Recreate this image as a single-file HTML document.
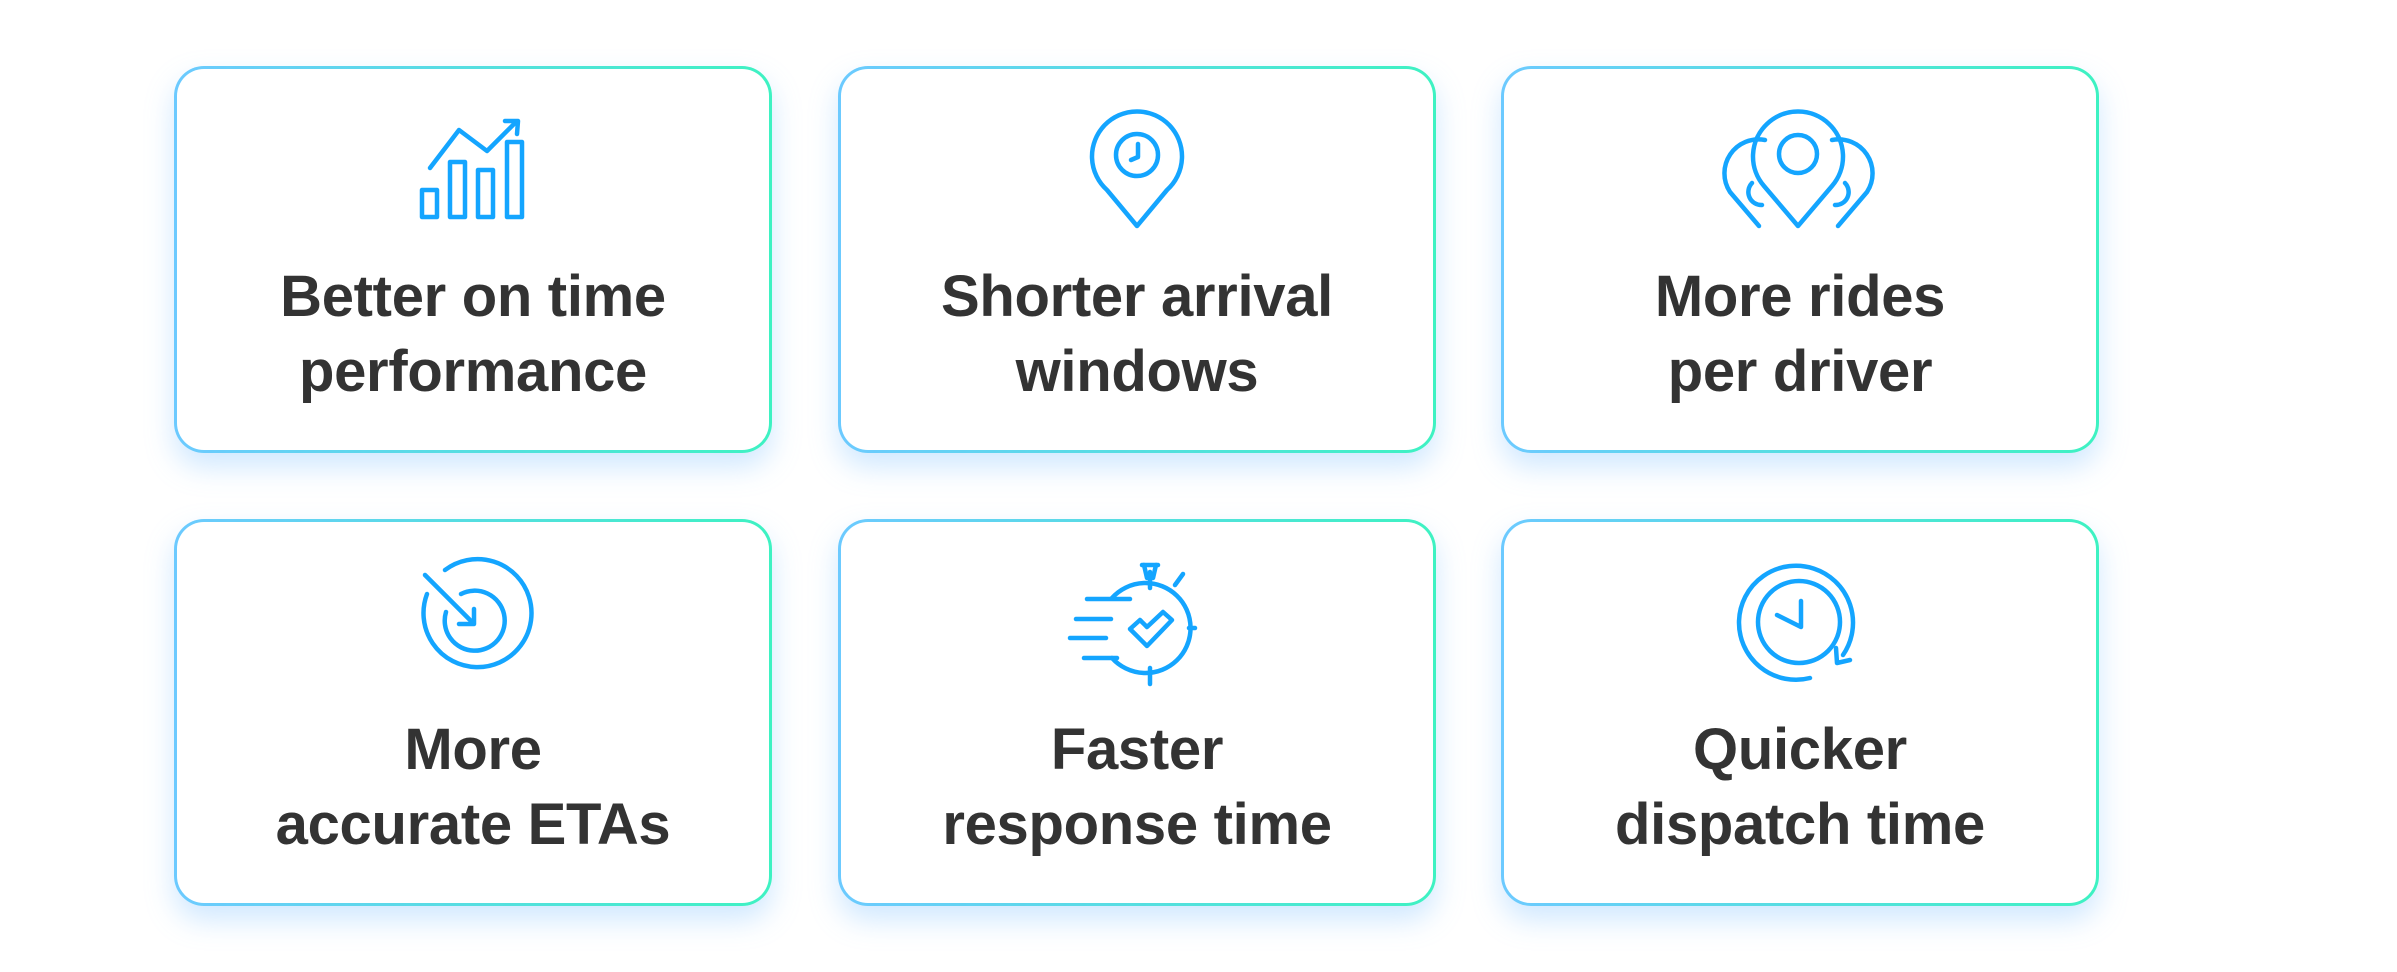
<!DOCTYPE html>
<html><head><meta charset="utf-8"><style>
html,body{margin:0;padding:0;background:#fff;}
body{width:2397px;height:972px;position:relative;overflow:hidden;font-family:"Liberation Sans",sans-serif;}
.card{position:absolute;width:598px;height:387px;box-sizing:border-box;border-radius:30px;padding:3px;background:linear-gradient(90deg,#6ccaff,#3ef2c2);box-shadow:0 14px 28px rgba(120,190,255,0.35);}
.in{width:100%;height:100%;background:#fff;border-radius:27px;}
.t{position:absolute;width:598px;text-align:center;font-weight:bold;font-size:58px;color:#333;line-height:75px;letter-spacing:-0.3px;}
svg{position:absolute;left:0;top:0;}
</style></head><body>
<div class="card" style="left:174px;top:66px"><div class="in"></div></div>
<div class="card" style="left:838px;top:66px"><div class="in"></div></div>
<div class="card" style="left:1501px;top:66px"><div class="in"></div></div>
<div class="card" style="left:174px;top:519px"><div class="in"></div></div>
<div class="card" style="left:838px;top:519px"><div class="in"></div></div>
<div class="card" style="left:1501px;top:519px"><div class="in"></div></div>

<div class="t" style="left:174px;top:259px">Better on time<br>performance</div>
<div class="t" style="left:838px;top:259px">Shorter arrival<br>windows</div>
<div class="t" style="left:1501px;top:259px">More rides<br>per driver</div>
<div class="t" style="left:174px;top:712px">More<br>accurate ETAs</div>
<div class="t" style="left:838px;top:712px">Faster<br>response time</div>
<div class="t" style="left:1501px;top:712px">Quicker<br>dispatch time</div>

<svg width="2397" height="972" fill="none" stroke="#14a5ff" stroke-width="4.5" stroke-linecap="round" stroke-linejoin="round">
<!-- chart -->
<rect x="422" y="190" width="15" height="27"/>
<rect x="450" y="162" width="15" height="55"/>
<rect x="478" y="170" width="15" height="47"/>
<rect x="507" y="142" width="15" height="75"/>
<polyline points="430,168 459,130 487,151 516,122"/>
<polyline points="505,121 518,121 517,134"/>
<!-- pin clock -->
<path d="M1137,226 L1107,190 A45,45 0 1 1 1167,190 Z"/>
<circle cx="1137" cy="155" r="21"/>
<polyline points="1138,144 1138,157 1131,160"/>
<!-- three pins -->
<path d="M1759,226 L1730,192 A34,34 0 0 1 1765,140"/>
<path d="M1838,226 L1867,192 A34,34 0 0 0 1832,140"/>
<path d="M1752,183 A13,13 0 0 0 1762,205"/>
<path d="M1845,183 A13,13 0 0 1 1835,205"/>
<path d="M1798,226 L1764,186 A45,45 0 1 1 1832,186 Z"/>
<circle cx="1798" cy="154" r="19"/>
<!-- target -->
<path d="M445,570 A54,54 0 1 1 427,594"/>
<path d="M461,594 A30,30 0 1 1 446,612"/>
<line x1="425" y1="575" x2="472" y2="622"/>
<polyline points="459,624 474,624 474,609"/>
<!-- stopwatch -->
<path d="M1112,598 A45,45 0 1 1 1112,658"/>
<line x1="1150" y1="572" x2="1150" y2="588"/><line x1="1150" y1="668" x2="1150" y2="684"/>
<line x1="1189" y1="628" x2="1195" y2="628"/>
<line x1="1144" y1="565" x2="1147" y2="578"/><line x1="1156" y1="565" x2="1153" y2="578"/>
<line x1="1142" y1="565" x2="1158" y2="565"/>
<line x1="1175" y1="585" x2="1183" y2="574"/>
<line x1="1087" y1="599" x2="1130" y2="599"/>
<line x1="1076" y1="619" x2="1111" y2="619"/>
<line x1="1070" y1="638" x2="1106" y2="638"/>
<line x1="1084" y1="658" x2="1117" y2="658"/>
<path d="M1130,629 L1140,620 L1147,627 L1163,612 L1172,620 L1147,646 Z"/>
<!-- clock cycle -->
<path d="M1810,678 A57,57 0 1 1 1843,655"/>
<polyline points="1836,648 1837,663 1850,660"/>
<circle cx="1799" cy="622" r="41"/>
<polyline points="1801,601 1801,627 1777,615"/>
</svg>
</body></html>
